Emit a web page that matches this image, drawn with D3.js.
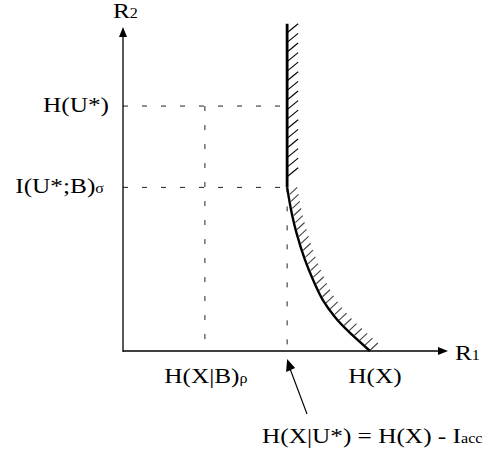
<!DOCTYPE html>
<html>
<head>
<meta charset="utf-8">
<script src="https://cdn.jsdelivr.net/npm/d3@7"></script>
<style>
  body { margin: 0; background: #fff; }
  text { font-family: "Liberation Serif", "Times New Roman", serif; fill: #000; }
</style>
</head>
<body>
<svg id="chart" width="491" height="455"></svg>
<script>
// rate region values (arbitrary units)
var hXgivenB = 2.52;   // H(X|B)ρ
var hXgivenU = 5.05;   // H(X|U*)
var hX = 7.6;          // H(X)
var hU = 7.56;         // H(U*)
var iUB = 5.05;        // I(U*;B)σ
var r2Top = 10.1;

// boundary curve from (H(X|U*), I(U*;B)) down to (H(X), 0)
var curveR1 = [5.05, 5.19, 5.34, 5.6, 5.85, 6.15, 6.52, 6.89, 7.6];
var curveR2 = [5.05, 4.26, 3.64, 2.81, 2.19, 1.57, 1.05, 0.65, 0];

var svg = d3.select("svg#chart"),
  width = +svg.attr("width"),
  height = +svg.attr("height");

var x = d3.scaleLinear().domain([0, 10]).range([123, 448]);
var y = d3.scaleLinear().domain([0, 10]).range([351, 27]);

var sx = 1.15; // the labels are a bit stretched sideways

// dashed guides
var dash = svg.append("g")
  .attr("stroke", "#222")
  .attr("stroke-width", 1)
  .attr("stroke-dasharray", "5,14");
dash.append("line").attr("x1", x(0)).attr("x2", x(hXgivenU)).attr("y1", y(hU)).attr("y2", y(hU));
dash.append("line").attr("x1", x(0)).attr("x2", x(hXgivenU)).attr("y1", y(iUB)).attr("y2", y(iUB));
dash.append("line").attr("x1", x(hXgivenB)).attr("x2", x(hXgivenB)).attr("y1", y(hU)).attr("y2", y(0));
dash.append("line").attr("x1", x(hXgivenU)).attr("x2", x(hXgivenU)).attr("y1", y(iUB)).attr("y2", y(0));

// axes
var axes = svg.append("g").attr("stroke", "#000").attr("stroke-width", 1.3);
axes.append("line").attr("x1", x(0)).attr("x2", x(10) - 8).attr("y1", y(0)).attr("y2", y(0));
axes.append("line").attr("x1", x(0)).attr("x2", x(0)).attr("y1", y(0) + 1).attr("y2", y(10) + 8);
svg.append("path")
  .attr("d", "M" + x(10) + "," + y(0) + "l-10,-4l0,8z");
svg.append("path")
  .attr("d", "M" + x(0) + "," + y(10) + "l-4,10l8,0z");

// hatching on the vertical edge
var vHatch = svg.append("g").attr("stroke", "#000").attr("stroke-width", 1.1);
for (var yy = y(r2Top) + 9; yy <= y(iUB) - 2; yy += 9.6) {
  vHatch.append("line")
    .attr("x1", x(hXgivenU)).attr("y1", yy)
    .attr("x2", x(hXgivenU) + 11).attr("y2", yy - 9);
}

// thick vertical edge
svg.append("line")
  .attr("x1", x(hXgivenU)).attr("x2", x(hXgivenU))
  .attr("y1", y(r2Top)).attr("y2", y(iUB))
  .attr("stroke", "#000").attr("stroke-width", 2.8);

// curved edge
var pts = curveR1.map(function(d, i) { return [x(d), y(curveR2[i])]; });
var line = d3.line().curve(d3.curveCatmullRom);
var curve = svg.append("path")
  .attr("d", line(pts))
  .attr("fill", "none")
  .attr("stroke", "#000")
  .attr("stroke-width", 2.4);

// hatching along the curve
var node = curve.node(), len = node.getTotalLength();
var cHatch = svg.append("g").attr("stroke", "#444").attr("stroke-width", 1.1);
for (var s = 7; s <= len; s += 7.2) {
  var p = node.getPointAtLength(s);
  cHatch.append("line")
    .attr("x1", p.x + 1.5).attr("y1", p.y)
    .attr("x2", p.x + 9).attr("y2", p.y - 7);
}

// annotation arrow
svg.append("line")
  .attr("x1", 307).attr("y1", 414)
  .attr("x2", x(hXgivenU) + 3).attr("y2", y(0) + 18)
  .attr("stroke", "#000").attr("stroke-width", 1.2);
svg.append("path")
  .attr("d", "M" + x(hXgivenU) + "," + (y(0) + 8) + "l-1,13l9,-4z");

// labels
function label(px, py, anchor, parts) {
  var g = svg.append("g").attr("transform", "translate(" + px + "," + py + ") scale(" + sx + ",1)");
  var t = g.append("text").attr("text-anchor", anchor);
  parts.forEach(function(p) {
    t.append("tspan").attr("font-size", p[1]).text(p[0]);
  });
}

label(113, 18, "start", [["R", 22], ["2", 14]]);
label(455, 360, "start", [["R", 22], ["1", 14]]);
label(109, y(hU) + 6, "end", [["H(U*)", 22]]);
label(104, y(iUB) + 6, "end", [["I(U*;B)", 22], ["σ", 14]]);
label(x(hXgivenB) + 1, 383, "middle", [["H(X|B)", 22], ["ρ", 14]]);
label(x(hX) + 5, 383, "middle", [["H(X)", 22]]);
label(262, 443, "start", [["H(X|U*) = H(X) - I", 22], ["acc", 14]]);
</script>
</body>
</html>
